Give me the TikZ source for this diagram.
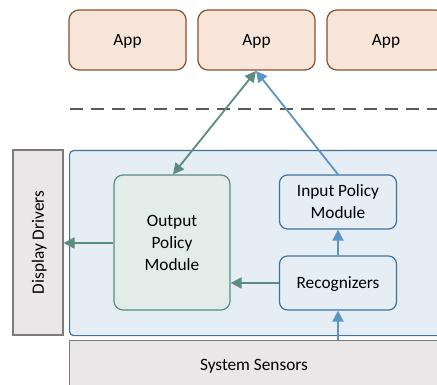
\documentclass[tikz,border=0pt]{standalone}
\usepackage{fontspec}
\setmainfont{Carlito}
\usetikzlibrary{arrows.meta}
\definecolor{appfill}{HTML}{F8E5DA}
\definecolor{appline}{HTML}{8E4F2C}
\definecolor{grayfill}{HTML}{E9E7E7}
\definecolor{grayline}{HTML}{7F7B7B}
\definecolor{bluefill}{HTML}{E5EDF5}
\definecolor{blueline}{HTML}{41719C}
\definecolor{greenfill}{HTML}{E2ECE8}
\definecolor{greenline}{HTML}{5B8C7E}
\definecolor{bluearrow}{HTML}{5B93C1}
\definecolor{dashgray}{HTML}{595959}
% strut giving each text line the font's full ascent and descent
\newcommand{\ls}{\rule[-0.27em]{0pt}{1.22em}}
\tikzset{
  lbl/.style={font=\fontsize{17.3}{20.7}\selectfont, text=black, align=center, inner sep=0pt},
  appbox/.style={lbl, draw=appline, fill=appfill, line width=1.2pt, rounded corners=10pt,
    minimum width=117pt, minimum height=60pt},
  graybox/.style={lbl, draw=grayline, fill=grayfill, line width=1.1pt},
  layerbox/.style={draw=blueline, fill=bluefill, line width=1.2pt, rounded corners=4pt},
  modbox/.style={lbl, draw=blueline, fill=bluefill, line width=1.2pt, rounded corners=8pt,
    minimum width=117pt, minimum height=54pt},
  outbox/.style={lbl, draw=greenline, fill=greenfill, line width=1.2pt, rounded corners=9pt,
    minimum width=116pt, minimum height=135pt},
  greenarrow/.style={draw=greenline, line width=1.8pt, -{Triangle[length=11pt,width=11pt]}},
  bluearr/.style={draw=bluearrow, line width=1.8pt, -{Triangle[length=11pt,width=11pt]}},
}
\begin{document}
\begin{tikzpicture}[x=1pt,y=-1pt]
\useasboundingbox (0,0) rectangle (437,385);
\clip (0,0) rectangle (437,385);

% application row
\node[appbox] (app1) at (127.5,40) {\ls App};
\node[appbox] (app2) at (256.5,40) {\ls App};
\node[appbox, minimum width=118pt] (app3) at (386,40) {\ls App};

% separator between applications and system layer
\coordinate (sepL) at (70,109);
\coordinate (sepR) at (437,109);
\draw[dashgray, line width=1.5pt, dash pattern=on 13pt off 8pt] (sepL) -- (sepR);

% side and bottom layers
\node[graybox, minimum width=50pt, minimum height=185pt] (dd) at (38,242.5) {};
\node[lbl, rotate=90] (ddtext) at (dd.center) {\ls Display Drivers};
\node[graybox, minimum width=372pt, minimum height=52pt, anchor=north west] (sens) at (69,340) {};
\node[lbl] (senstext) at (254,365) {\ls System Sensors};

% system layer
\node[layerbox, minimum width=372pt, minimum height=185pt, anchor=north west] (layer) at (69,150) {};

% modules
\node[outbox] (out) at (172,242.5) {\ls Output\\\ls Policy\\\ls Module};
\node[modbox] (inp) at (338,202) {\ls Input Policy\\\ls Module};
\node[modbox] (rec) at (338,283) {\ls Recognizers};

% connectors
\coordinate (appin) at (256,71);
\draw[draw=greenline, line width=1.8pt, {Triangle[length=11pt,width=11pt]}-{Triangle[length=11pt,width=11pt]}]
  (out.north) ++(1,0) coordinate (outtop) (outtop) -- (appin);
\draw[bluearr] (inp.north) -- (appin);
\draw[greenarrow] ([yshift=-0.5pt]out.west) -- ([yshift=-0.5pt]out.west -| dd.east);
\draw[greenarrow] (rec.west) -- (out.east |- rec.west);
\draw[bluearr] (rec.north) -- (inp.south);
\draw[bluearr] (sens.north -| rec.south) -- (rec.south);
\end{tikzpicture}
\end{document}
